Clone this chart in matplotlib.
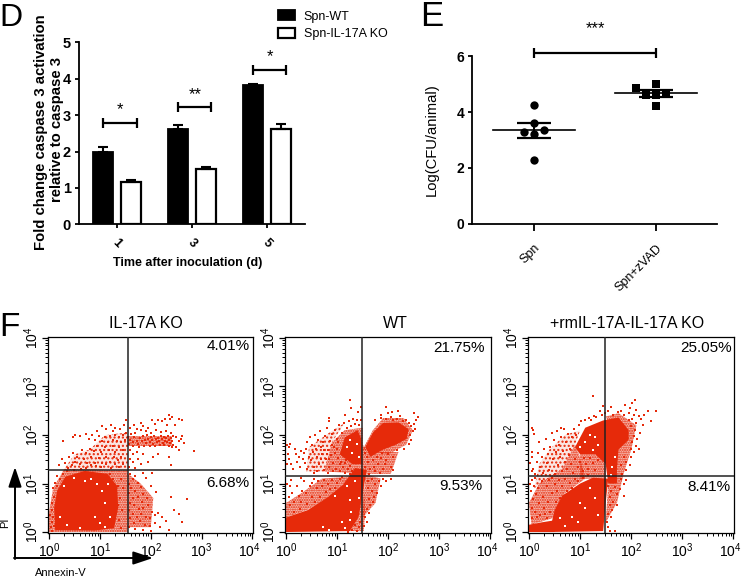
"""
Caspase 3 activation, CFU counts and Annexin-V/PI flow plots (panels D, E, F).
Flow events are hand read from the figure in log10 units: dense clouds as outlines,
stippled zones as outlines, loose events as single dots.
"""

import numpy as np
import matplotlib
matplotlib.use("Agg")
import matplotlib.pyplot as plt
from matplotlib.colors import to_rgba
from matplotlib.ticker import FixedLocator, NullFormatter
from matplotlib.transforms import ScaledTranslation

plt.rcParams['font.family'] = ['Liberation Sans', 'DejaVu Sans']
plt.rcParams['mathtext.fontset'] = 'custom'
plt.rcParams['mathtext.rm'] = 'Liberation Sans'

W, H = 742, 578

# Panel D
days = ["1", "3", "5"]
wt_fold = [2.0, 2.63, 3.82]
wt_err = [0.13, 0.10, 0.04]
ko_fold = [1.16, 1.53, 2.62]
ko_err = [0.06, 0.05, 0.13]
d_bracket_y = [2.79, 3.21, 4.24]
d_stars = ["*", "**", "*"]

# Panel E
e_groups = ["Spn", "Spn+zVAD"]
spn_x = [0, 0, -0.08, 0.08, 0, 0]
spn_cfu = [4.25, 3.6, 3.3, 3.35, 3.2, 2.3]
zvad_x = [0.84, 1, 0.92, 1, 1.08, 1]
zvad_cfu = [4.85, 5.0, 4.6, 4.6, 4.65, 4.22]
e_mean = [3.34, 4.67]
e_sem = [0.265, 0.12]

# Panel F, log10 units
ko_gate = (1.55, 1.28)
wt_gate = (1.49, 1.155)
rm_gate = (1.48, 1.155)

ko_dense = [(0.12, 0.04), (0.9, 0.03), (1.28, 0.08), (1.36, 0.5), (1.34, 0.95), (1.15, 1.2), (0.7, 1.26),
            (0.32, 1.14), (0.16, 0.85), (0.1, 0.5)]
ko_stipple = [
    [(0.0, 0.0), (1.55, 0.0), (1.55, 1.28), (0.3, 1.3), (0.08, 0.9), (0.0, 0.4)],
    [(1.55, 0.1), (2.0, 0.1), (2.05, 0.7), (1.8, 1.0), (1.55, 1.2)],
    [(1.55, 1.78), (2.42, 1.78), (2.42, 1.97), (1.55, 1.97)],
]
ko_sparse = [
    [(0.7, 1.3), (1.55, 1.3), (1.55, 2.05), (1.1, 2.0), (0.8, 1.7)],
    [(0.3, 1.3), (0.7, 1.3), (0.8, 1.7), (0.5, 1.6)],
]
ko_dots = [
    (1.6, 1.9), (1.65, 1.85), (1.68, 1.95), (1.72, 1.88), (1.75, 1.82), (1.78, 1.93), (1.82, 1.87), (1.85, 1.97),
    (1.88, 1.9), (1.9, 1.83), (1.93, 2.0), (1.95, 1.92), (1.98, 1.86), (2.0, 1.95), (2.03, 1.89), (2.05, 1.82),
    (2.07, 1.98), (2.1, 1.92), (2.12, 1.86), (2.15, 1.94), (2.17, 1.88), (2.2, 1.98), (2.22, 1.91), (2.24, 1.84),
    (2.26, 1.95), (2.28, 1.88), (2.3, 1.93), (2.32, 1.86), (2.34, 1.97), (2.36, 1.9), (2.38, 1.83), (2.4, 1.93),
    (2.42, 1.87), (2.43, 1.97), (2.44, 1.8), (2.41, 1.76), (2.35, 1.78), (2.27, 1.79), (2.18, 1.8), (2.08, 1.77),
    (1.98, 1.78), (1.87, 1.78), (1.77, 1.75), (1.66, 1.77), (1.58, 1.82), (1.56, 1.95), (1.62, 2.02), (1.7, 2.05),
    (1.8, 2.1), (1.9, 2.08), (2.0, 2.05), (2.1, 2.1), (2.2, 2.06), (2.3, 2.08), (2.4, 2.05), (1.6, 2.15),
    (1.68, 2.2), (1.72, 2.12), (1.8, 2.25), (1.85, 2.18), (1.95, 2.15), (2.03, 2.3), (2.08, 2.22), (2.15, 2.3),
    (2.22, 2.28), (2.32, 2.2), (2.28, 2.33), (2.38, 2.32), (2.35, 2.42), (2.42, 2.37), (2.55, 2.34), (2.62, 2.31),
    (2.48, 2.2), (2.5, 1.95), (2.55, 1.88), (2.6, 1.92), (2.65, 1.84), (2.5, 1.75), (2.56, 1.7), (2.85, 1.66),
    (2.62, 1.98), (1.6, 1.7), (1.65, 1.6), (1.72, 1.65), (1.6, 1.5), (1.66, 1.45), (1.58, 1.35), (1.75, 1.5),
    (1.8, 1.4), (1.7, 1.32), (1.85, 1.6), (1.95, 1.45), (2.05, 1.55), (2.15, 1.6), (2.35, 1.55), (2.4, 1.38),
    (1.52, 2.05), (1.5, 1.9), (1.46, 2.0), (1.42, 1.85), (1.38, 1.95), (1.34, 1.88), (1.3, 2.0), (1.26, 1.9),
    (1.2, 1.98), (1.15, 1.85), (1.1, 1.95), (1.05, 1.88), (0.98, 1.98), (0.9, 1.9), (0.85, 2.0), (0.78, 1.92),
    (0.72, 2.02), (0.6, 1.98), (0.52, 2.0), (0.48, 1.95), (0.28, 1.88), (1.48, 2.2), (1.4, 2.12), (1.3, 2.15),
    (1.22, 2.2), (1.12, 2.12), (1.05, 2.18), (0.95, 2.08), (1.25, 2.08), (1.52, 2.3), (1.45, 1.7), (1.38, 1.75),
    (1.3, 1.65), (1.25, 1.78), (1.18, 1.7), (1.1, 1.75), (1.02, 1.65), (0.95, 1.78), (0.88, 1.68), (0.8, 1.72),
    (0.72, 1.62), (0.65, 1.7), (0.55, 1.55), (0.48, 1.62), (0.4, 1.55), (0.32, 1.42), (0.25, 1.5), (0.2, 1.38),
    (1.42, 1.55), (1.35, 1.48), (1.28, 1.55), (1.2, 1.45), (1.12, 1.55), (1.05, 1.42), (0.98, 1.52), (0.9, 1.42),
    (0.82, 1.55), (0.75, 1.42), (0.68, 1.5), (0.6, 1.4), (0.52, 1.45), (0.45, 1.38), (0.38, 1.32), (1.45, 1.4),
    (1.38, 1.35), (1.3, 1.4), (1.22, 1.33), (1.12, 1.4), (1.02, 1.34), (0.92, 1.36), (0.82, 1.38), (0.72, 1.33),
    (1.6, 1.2), (1.65, 1.1), (1.58, 1.0), (1.7, 1.15), (1.75, 1.02), (1.62, 0.9), (1.7, 0.85), (1.8, 0.92),
    (1.85, 0.78), (1.58, 0.8), (1.66, 0.7), (1.75, 0.72), (1.82, 0.62), (1.92, 0.7), (1.6, 0.6), (1.68, 0.55),
    (1.76, 0.48), (1.85, 0.5), (1.95, 0.55), (2.02, 0.42), (1.58, 0.45), (1.65, 0.38), (1.72, 0.32), (1.8, 0.38),
    (1.9, 0.32), (1.98, 0.28), (2.08, 0.35), (2.15, 0.4), (2.22, 0.3), (2.3, 0.22), (1.6, 0.28), (1.68, 0.18),
    (1.78, 0.22), (1.88, 0.15), (1.98, 0.12), (2.08, 0.18), (2.18, 0.1), (2.35, 0.05), (1.58, 0.1), (1.7, 0.06),
    (1.85, 0.04), (2.0, 0.03), (2.45, 0.45), (2.55, 0.38), (2.62, 0.2), (2.72, 0.68), (2.4, 0.72), (2.1, 0.82),
    (2.0, 0.95), (1.9, 1.12), (2.02, 1.22), (1.85, 1.22), (1.42, 1.1), (1.45, 0.9), (1.4, 0.7), (1.44, 0.45),
    (1.38, 0.25), (1.42, 0.08), (1.35, 0.95), (1.36, 0.55), (0.05, 0.2), (0.02, 0.35), (0.05, 0.45), (0.08, 0.3),
    (0.1, 0.12), (0.06, 0.6), (0.1, 0.72), (0.08, 0.9), (0.12, 1.02), (0.16, 1.15), (0.22, 1.1), (0.28, 1.2),
    (0.16, 0.95), (0.05, 0.02), (0.03, 0.1), (0.35, 1.26), (0.5, 1.28), (0.62, 1.3), (1.2, 1.2), (1.25, 1.1),
]
ko_holes = [(0.82, 1.1), (0.95, 1.0), (0.7, 1.05), (1.05, 0.85), (1.1, 0.6), (0.9, 0.3), (1.0, 0.18), (0.6, 0.08),
            (0.35, 0.15), (0.22, 0.3), (1.15, 1.0), (1.2, 0.3), (0.3, 0.95), (0.5, 1.12), (1.1, 0.1)]

wt_dense_low = [(0.0, 0.0), (1.25, 0.02), (1.42, 0.3), (1.5, 0.8), (1.58, 1.28), (1.35, 1.32), (1.12, 0.98),
                (0.82, 0.72), (0.42, 0.45), (0.0, 0.3)]
wt_dense_high = [(1.55, 1.75), (1.7, 2.05), (1.9, 2.25), (2.2, 2.26), (2.4, 2.12), (2.36, 1.92), (2.15, 1.8),
                 (1.9, 1.7), (1.65, 1.55)]
wt_dense_mid = [(1.05, 1.6), (1.15, 1.95), (1.4, 2.1), (1.48, 1.9), (1.5, 1.4), (1.3, 1.4)]
wt_stipple = [
    [(0.75, 1.25), (1.5, 1.2), (1.5, 2.15), (1.15, 2.1), (0.9, 1.85)],
    [(1.5, 1.2), (2.05, 1.2), (2.2, 1.65), (1.6, 1.65), (1.5, 1.8)],
    [(0.0, 0.3), (0.4, 0.45), (0.85, 0.72), (1.15, 1.0), (1.3, 1.15), (0.7, 1.1), (0.3, 0.8), (0.0, 0.6)],
    [(1.5, 0.3), (1.75, 0.6), (1.85, 1.1), (1.55, 1.2)],
    [(1.5, 1.7), (1.7, 2.1), (1.9, 2.35), (2.3, 2.35), (2.48, 2.1), (2.35, 1.8), (2.0, 1.6)],
    [(1.25, 0.02), (1.52, 0.02), (1.55, 0.4), (1.52, 1.0), (1.45, 0.7), (1.42, 0.3)],
]
wt_sparse = [[(0.4, 1.25), (0.75, 1.25), (0.9, 1.85), (1.15, 2.25), (0.85, 2.05), (0.45, 1.75)]]
wt_dots = [
    (0.02, 1.8), (0.05, 1.75), (0.08, 1.82), (0.03, 1.6), (0.06, 1.5), (0.1, 1.4), (0.14, 1.3), (0.02, 1.4),
    (0.18, 1.72), (0.2, 1.6), (0.22, 1.45), (0.25, 1.55), (0.28, 1.35), (0.3, 1.68), (0.33, 1.5), (0.36, 1.62),
    (0.38, 1.42), (0.4, 1.72), (0.42, 1.85), (0.44, 1.55), (0.46, 1.95), (0.48, 1.48), (0.5, 1.8), (0.52, 1.64),
    (0.54, 1.35), (0.56, 2.0), (0.58, 1.72), (0.6, 1.55), (0.62, 1.9), (0.64, 1.4), (0.66, 2.08), (0.68, 1.76),
    (0.7, 1.6), (0.72, 1.85), (0.74, 1.28), (0.76, 1.98), (0.78, 1.5), (0.8, 2.15), (0.82, 1.7), (0.84, 1.35),
    (0.86, 1.88), (0.88, 1.58), (0.9, 2.02), (0.92, 1.42), (0.94, 1.75), (0.96, 2.1), (0.98, 1.3), (1.0, 1.92),
    (1.02, 1.52), (1.04, 2.2), (1.06, 1.25), (1.08, 1.45), (1.1, 2.05), (1.12, 1.35), (1.14, 2.25), (1.16, 1.22),
    (1.18, 1.48), (1.2, 2.15), (1.22, 1.3), (1.24, 2.28), (1.26, 1.36), (1.28, 2.18), (1.3, 1.25), (1.32, 2.32),
    (1.34, 2.22), (1.38, 2.3), (1.42, 2.2), (1.46, 2.3), (0.85, 1.5), (0.95, 1.62), (1.0, 1.72), (1.02, 1.85),
    (0.9, 1.8), (0.8, 1.6), (0.75, 1.7), (0.68, 1.5), (1.05, 1.4), (1.15, 1.42), (1.25, 1.2), (1.35, 1.22),
    (1.45, 1.25), (0.92, 1.26), (0.83, 1.22), (0.6, 1.25), (0.55, 1.22), (0.42, 1.3), (1.27, 2.55), (0.85, 2.35),
    (1.15, 2.42), (1.25, 2.72), (1.46, 2.58), (1.4, 2.47), (0.85, 2.28), (1.55, 1.35), (1.6, 1.45), (1.65, 1.3),
    (1.7, 1.48), (1.75, 1.25), (1.8, 1.4), (1.85, 1.52), (1.9, 1.3), (1.95, 1.48), (2.0, 1.6), (2.05, 1.35),
    (1.58, 1.55), (1.62, 1.2), (1.68, 1.62), (1.72, 1.35), (1.78, 1.55), (1.83, 1.22), (1.88, 1.62), (1.93, 1.4),
    (2.1, 1.55), (2.18, 1.7), (2.1, 1.28), (1.54, 1.62), (1.6, 1.05), (1.68, 1.1), (1.75, 1.0), (1.82, 1.05),
    (1.9, 1.1), (1.95, 1.05), (1.6, 0.9), (1.68, 0.85), (1.72, 0.72), (1.78, 0.8), (1.62, 0.68), (1.65, 0.55),
    (1.7, 0.62), (1.58, 0.48), (1.62, 0.4), (1.55, 0.3), (1.58, 0.2), (1.52, 0.12), (1.85, 0.95), (2.05, 1.1),
    (1.75, 2.3), (1.85, 2.35), (1.95, 2.32), (2.05, 2.38), (2.1, 2.3), (2.18, 2.34), (2.22, 2.4), (2.28, 2.28),
    (2.35, 2.3), (1.95, 2.58), (1.85, 2.42), (2.0, 2.45), (2.08, 2.48), (2.2, 2.5), (2.4, 2.25), (2.45, 2.18),
    (2.48, 2.08), (2.42, 2.0), (2.5, 2.22), (2.52, 2.12), (2.45, 1.9), (2.4, 1.82), (2.5, 2.45), (2.55, 2.3),
    (2.58, 2.38), (2.3, 1.72), (0.02, 1.0), (0.08, 0.95), (0.12, 0.8), (0.05, 0.72), (0.15, 0.62), (0.08, 0.55),
    (0.22, 0.95), (0.25, 0.75), (0.3, 0.62), (0.32, 0.85), (0.36, 1.05), (0.4, 0.8), (0.42, 0.58), (0.46, 0.95),
    (0.5, 0.72), (0.54, 1.1), (0.56, 0.62), (0.6, 0.9), (0.62, 1.05), (0.66, 0.72), (0.7, 0.95), (0.74, 1.08),
    (0.78, 0.82), (0.82, 1.0), (0.86, 0.88), (0.9, 1.08), (0.95, 0.9), (1.0, 1.02), (1.05, 1.1), (1.1, 1.14),
    (0.5, 1.02), (0.3, 1.12), (0.1, 1.08), (0.62, 0.52), (0.28, 0.48), (0.15, 0.42),
    (1.3, 0.05), (1.35, 0.15), (1.42, 0.1), (1.45, 0.2), (1.38, 0.03), (1.22, 0.0),
]
wt_holes = [(1.2, 1.75), (1.3, 1.62), (1.38, 1.82), (1.25, 1.9), (1.42, 1.55), (0.95, 0.75), (1.2, 0.95), (1.1, 0.2),
            (1.25, 0.25), (1.28, 0.42), (1.15, 0.08), (0.85, 0.05), (0.72, 0.1), (1.42, 0.7), (1.35, 1.05), (1.25, 0.65)]

rm_dense_high = [(0.9, 1.75), (1.1, 2.15), (1.45, 2.3), (1.75, 2.36), (1.95, 2.1), (1.95, 1.9), (1.75, 1.7),
                 (1.72, 1.3), (1.72, 1.0), (1.55, 1.0), (1.5, 1.4), (1.3, 1.6), (1.0, 1.6)]
rm_dense_low = [(0.4, 0.0), (1.45, 0.02), (1.5, 0.6), (1.55, 1.1), (1.25, 1.12), (1.0, 1.0), (0.65, 0.75),
                (0.5, 0.45)]
rm_dense_corner = [(0.0, 0.0), (0.5, 0.0), (0.55, 0.25), (0.25, 0.2), (0.0, 0.15)]
rm_stipple = [
    [(0.05, 0.15), (0.5, 0.3), (0.7, 0.8), (1.1, 1.1), (0.98, 1.6), (0.9, 1.8), (0.65, 1.3), (0.2, 1.0), (0.0, 0.6)],
    [(1.5, 0.2), (1.72, 0.6), (1.85, 1.2), (2.0, 1.7), (2.1, 2.2), (1.75, 2.45), (1.5, 2.38), (1.72, 1.9), (1.55, 1.0)],
    [(1.0, 1.1), (1.5, 1.1), (1.5, 1.5), (1.3, 1.6), (1.0, 1.6)],
]
rm_sparse = [[(0.1, 0.9), (0.65, 1.3), (0.9, 1.8), (1.0, 2.1), (0.7, 2.0), (0.4, 1.7), (0.2, 1.4)]]
rm_dots = [
    (0.05, 1.55), (0.02, 1.42), (0.08, 1.3), (0.12, 1.2), (0.05, 1.25), (0.15, 1.45), (0.05, 1.65), (0.08, 2.1),
    (0.18, 1.62), (0.2, 1.85), (0.22, 1.35), (0.25, 1.55), (0.28, 1.22), (0.3, 1.72), (0.33, 1.92), (0.35, 1.42),
    (0.38, 1.6), (0.4, 1.28), (0.42, 1.75), (0.44, 2.05), (0.46, 1.5), (0.48, 1.9), (0.5, 1.2), (0.52, 1.65),
    (0.54, 2.08), (0.56, 1.38), (0.58, 1.8), (0.6, 1.55), (0.62, 1.95), (0.64, 1.25), (0.66, 1.68), (0.68, 2.12),
    (0.7, 1.45), (0.72, 1.85), (0.74, 1.3), (0.76, 2.02), (0.78, 1.58), (0.8, 1.72), (0.82, 1.4), (0.84, 1.95),
    (0.86, 1.22), (0.88, 2.12), (0.9, 1.5), (0.92, 2.0), (0.95, 1.35), (0.98, 2.2), (1.0, 1.45), (1.02, 2.28),
    (1.05, 1.25), (1.08, 1.52), (1.1, 2.3), (1.12, 1.4), (1.15, 1.3), (1.18, 2.35), (1.2, 1.52), (1.22, 2.3),
    (1.25, 1.42), (1.28, 2.4), (1.3, 1.28), (1.32, 2.38), (1.35, 1.48), (1.38, 2.5), (1.42, 2.42), (1.45, 2.6),
    (1.48, 2.45), (0.05, 1.08), (0.1, 0.95), (0.03, 0.85), (0.14, 0.78), (0.08, 0.68), (0.18, 0.9), (0.06, 0.5),
    (0.2, 0.6), (0.12, 0.42), (0.25, 1.05), (0.28, 0.72), (0.3, 0.5), (0.22, 0.35), (0.35, 0.95), (0.32, 0.38),
    (0.38, 0.62), (0.4, 1.08), (0.42, 0.42), (0.45, 0.8), (0.5, 1.0), (0.52, 0.62), (0.55, 0.85), (0.58, 1.08),
    (0.6, 0.7), (0.65, 0.95), (0.7, 1.1), (0.75, 0.85), (0.8, 1.02), (0.85, 0.9), (0.9, 1.1), (0.95, 1.05),
    (0.15, 0.3), (0.05, 0.28), (0.35, 0.28), (0.02, 0.98), (0.12, 1.12), (0.45, 1.12), (1.05, 1.12), (1.15, 1.18),
    (1.55, 0.95), (1.6, 0.85), (1.68, 0.92), (1.72, 0.78), (1.58, 0.72), (1.65, 0.62), (1.72, 0.55), (1.58, 0.55),
    (1.62, 0.45), (1.55, 0.38), (1.6, 0.3), (1.52, 0.2), (1.55, 0.1), (1.58, 0.02), (1.68, 0.03), (1.8, 1.1),
    (1.85, 0.98), (1.78, 0.88), (1.85, 0.75), (1.9, 1.08), (1.82, 1.2), (1.9, 1.28), (1.8, 1.38), (1.9, 1.45),
    (1.98, 1.38), (2.0, 1.55), (1.85, 1.55), (2.05, 1.65), (2.0, 1.72), (2.1, 1.78), (2.15, 1.72), (2.02, 1.85),
    (2.05, 1.98), (2.12, 1.92), (2.0, 2.18), (2.08, 2.1), (2.18, 2.05), (2.22, 2.2), (2.1, 2.25), (2.02, 2.32),
    (1.95, 2.3), (1.85, 2.42), (1.95, 2.45), (2.05, 2.42), (2.15, 2.4), (2.2, 2.32), (2.1, 2.52), (1.98, 2.55),
    (1.88, 2.62), (2.02, 2.65), (2.08, 2.72), (2.25, 2.42), (2.32, 2.5), (2.38, 2.28), (1.75, 2.48), (1.65, 2.42),
    (1.55, 2.5), (1.6, 2.58), (1.25, 2.8), (0.05, 2.15), (0.1, 2.02), (1.8, 2.5), (2.48, 2.5), (0.62, 2.15),
]
rm_holes = [(1.0, 1.75), (1.1, 1.85), (1.25, 1.7), (1.35, 1.8), (1.2, 2.0), (1.3, 1.95), (1.62, 1.35), (1.6, 1.18),
            (1.68, 1.55), (0.85, 0.3), (0.95, 0.2), (1.2, 0.9), (1.3, 0.7), (1.1, 0.5), (1.35, 0.35), (1.0, 0.6),
            (0.7, 0.12), (0.6, 0.28)]

ko_pct = ("4.01%", "6.68%")
wt_pct = ("21.75%", "9.53%")
rm_pct = ("25.05%", "8.41%")

RED = '#e62a0a'


def px_axes(fig, left, top, right, bottom):
    """Axes placed by image pixels."""
    return fig.add_axes([left / W, 1 - bottom / H, (right - left) / W, (bottom - top) / H])


def px_text(fig, x, y, s, **kw):
    kw.setdefault('ha', 'center')
    kw.setdefault('va', 'center')
    fig.text(x / W, 1 - y / H, s, **kw)


def style_graph(ax):
    for side in ['top', 'right']:
        ax.spines[side].set_visible(False)
    for side in ['left', 'bottom']:
        ax.spines[side].set_linewidth(1.3)
    ax.tick_params(width=1.3, length=3.2, pad=2.5)


def plot_bars(fig):
    ax = px_axes(fig, 79, 42.3, 305, 224.3)
    x = np.arange(len(days))
    ax.bar(x - 0.187, wt_fold, 0.26, color='black', edgecolor='black', linewidth=1.3, label='Spn-WT')
    ax.bar(x + 0.187, ko_fold, 0.26, color='white', edgecolor='black', linewidth=1.6, label='Spn-IL-17A KO')
    ax.errorbar(x - 0.187, wt_fold, yerr=[[0] * 3, wt_err], fmt='none', ecolor='black', elinewidth=1.5, capsize=3.5, capthick=1.5)
    ax.errorbar(x + 0.187, ko_fold, yerr=[[0] * 3, ko_err], fmt='none', ecolor='black', elinewidth=1.5, capsize=3.5, capthick=1.5)
    ax.set_xlim(-0.507, 2.507)
    ax.set_ylim(0, 5)
    ax.set_yticks(range(6))
    ax.set_xticks(x)
    ax.set_xticklabels(days, rotation=-45, fontsize=9, fontweight='bold')
    ax.tick_params(axis='y', labelsize=10.5)
    style_graph(ax)
    ax.tick_params(axis='x', pad=6)
    for lab in ax.get_yticklabels():
        lab.set_fontweight('bold')
    for i, y in enumerate(d_bracket_y):
        ax.errorbar(i + 0.035, y, xerr=0.225, fmt='none', ecolor='black', elinewidth=1.6,
                    capsize=3.8, capthick=1.6, clip_on=False)
        ax.text(i + 0.04, y + 0.36, d_stars[i], ha='center', va='center', fontsize=12)
    ax.legend(loc='upper left', bbox_to_anchor=(0.88, 1.177), frameon=False, fontsize=9, handlelength=1.36,
              handleheight=0.88, labelspacing=0.42, handletextpad=0.7, borderpad=0, borderaxespad=0)
    px_text(fig, 41, 132, "Fold change caspase 3 activation", rotation=90, fontsize=10.7, fontweight='bold')
    px_text(fig, 57, 130, "relative to caspase 3", rotation=90, fontsize=10.7, fontweight='bold')
    px_text(fig, 188, 263, "Time after inoculation (d)", fontsize=9, fontweight='bold')


def plot_cfu(fig):
    ax = px_axes(fig, 472, 56, 717, 224)
    ax.scatter(spn_x, spn_cfu, marker='o', s=36, color='black', linewidths=0, zorder=3)
    ax.scatter(zvad_x, zvad_cfu, marker='s', s=36, color='black', linewidths=0, zorder=3)
    for i in range(2):
        ax.plot([i - 0.336, i + 0.336], [e_mean[i]] * 2, color='black', lw=1.2)
        ax.errorbar(i, e_mean[i], yerr=e_sem[i], fmt='none', ecolor='black', elinewidth=1.4, capsize=12.5, capthick=1.6)
    ax.errorbar(0.5, 6.09, xerr=0.5, fmt='none', ecolor='black', elinewidth=1.6, capsize=3.8, capthick=1.6, clip_on=False)
    ax.text(0.5, 6.98, "***", ha='center', va='center', fontsize=12)
    ax.set_xlim(-0.508, 1.5)
    ax.set_ylim(0, 6)
    ax.set_yticks([0, 2, 4, 6])
    ax.set_xticks([0, 1])
    ax.set_xticklabels(e_groups, rotation=45, ha='right', rotation_mode='anchor', fontsize=9)
    ax.tick_params(axis='y', labelsize=10)
    style_graph(ax)
    ax.tick_params(axis='x', length=5, pad=8)
    for lab in ax.get_yticklabels():
        lab.set_fontweight('bold')
    px_text(fig, 432, 140, "Log(CFU/animal)", rotation=90, fontsize=10.6)


def plot_flow(fig, box, gate, clouds, stipple, sparse, dots, holes, pct, pct_xy):
    ax = px_axes(fig, *box)
    ax.set_xscale('log')
    ax.set_yscale('log')
    # thin zones first, tight clouds over them
    for zones, hatch, tint in [(sparse, '....', 0.12), (stipple, '.......', 0.32)]:
        for zone in zones:
            zx, zy = np.array(zone).T
            ax.fill(10 ** zx, 10 ** zy, facecolor=to_rgba(RED, tint), edgecolor=RED, hatch=hatch, linewidth=0, zorder=1)
    for cloud in clouds:
        cx, cy = np.array(cloud).T
        ax.fill(10 ** cx, 10 ** cy, color=RED, linewidth=0, zorder=1)
    dx, dy = np.array(dots).T
    ax.scatter(10 ** dx, 10 ** dy, marker='s', s=2.5, color=RED, linewidths=0, zorder=2)
    hx, hy = np.array(holes).T
    ax.scatter(10 ** hx, 10 ** hy, marker='s', s=1.0, color='white', linewidths=0, zorder=2)
    ax.axvline(10 ** gate[0], color='#222222', lw=1.1, zorder=3)
    ax.axhline(10 ** gate[1], color='#222222', lw=1.1, zorder=3)
    ax.set_xlim(10 ** -0.02, 10 ** 4.01)
    ax.set_ylim(10 ** -0.02, 10 ** 4.02)
    major = [1, 10, 100, 1000, 10000]
    minor = [m * 10 ** e for e in range(4) for m in range(2, 10)]
    for axis in [ax.xaxis, ax.yaxis]:
        axis.set_major_locator(FixedLocator(major))
        axis.set_minor_locator(FixedLocator(minor))
        axis.set_minor_formatter(NullFormatter())
    labels = [r'$\mathregular{10^{%d}}$' % e for e in range(5)]
    ax.set_xticklabels(labels, fontsize=10)
    ax.set_yticklabels(labels, fontsize=10, rotation=90, va='center')
    ax.tick_params(which='major', length=4, width=0.9, pad=2)
    ax.tick_params(axis='y', which='major', pad=1)
    ax.tick_params(which='minor', length=2.2, width=0.7)
    # last x label would run off the right edge of the picture
    last = ax.get_xticklabels()[-1]
    last.set_transform(last.get_transform() + ScaledTranslation(-3.5 / 100, 0, fig.dpi_scale_trans))
    for spine in ax.spines.values():
        spine.set_linewidth(0.9)
    px_text(fig, pct_xy[0], pct_xy[1], pct[0], ha='right', fontsize=11)
    px_text(fig, pct_xy[2], pct_xy[3], pct[1], ha='right', fontsize=11)


def plot_cytometry(fig):
    plot_flow(fig, (48, 337, 253, 533), ko_gate, [ko_dense], ko_stipple, ko_sparse, ko_dots, ko_holes,
              ko_pct, (250, 346, 249, 483))
    plot_flow(fig, (285, 337, 491, 533), wt_gate, [wt_dense_low, wt_dense_high, wt_dense_mid], wt_stipple, wt_sparse,
              wt_dots, wt_holes, wt_pct, (485, 348, 482, 486))
    plot_flow(fig, (528, 337, 734, 533), rm_gate, [rm_dense_high, rm_dense_low, rm_dense_corner], rm_stipple, rm_sparse,
              rm_dots, rm_holes, rm_pct, (732, 348, 731, 487))
    px_text(fig, 146, 323, "IL-17A KO", fontsize=11.5)
    px_text(fig, 395, 323, "WT", fontsize=11.5)
    px_text(fig, 627, 323, "+rmIL-17A-IL-17A KO", fontsize=11.5)

    # PI / Annexin-V direction arrows, on a pixel overlay
    over = fig.add_axes([0, 0, 1, 1], facecolor='none')
    over.set_xlim(0, W)
    over.set_ylim(H, 0)
    over.axis('off')
    props = dict(arrowstyle='-|>,head_length=1.2,head_width=0.4', color='black', lw=1.4, shrinkA=0, shrinkB=0)
    over.annotate('', xy=(15, 467), xytext=(15, 559), arrowprops=props)
    over.annotate('', xy=(153, 558), xytext=(14, 558), arrowprops=props)
    px_text(fig, 5, 523, "PI", rotation=90, fontsize=8)
    px_text(fig, 61, 573, "Annexin-V", fontsize=8)


fig = plt.figure(figsize=(W / 100, H / 100), dpi=100)
plot_bars(fig)
plot_cfu(fig)
plot_cytometry(fig)
px_text(fig, -1, 18, "D", ha='left', fontsize=23)
px_text(fig, 420, 16, "E", ha='left', fontsize=25)
px_text(fig, -1, 327, "F", ha='left', fontsize=24)
fig.savefig("out.png", dpi=100)
